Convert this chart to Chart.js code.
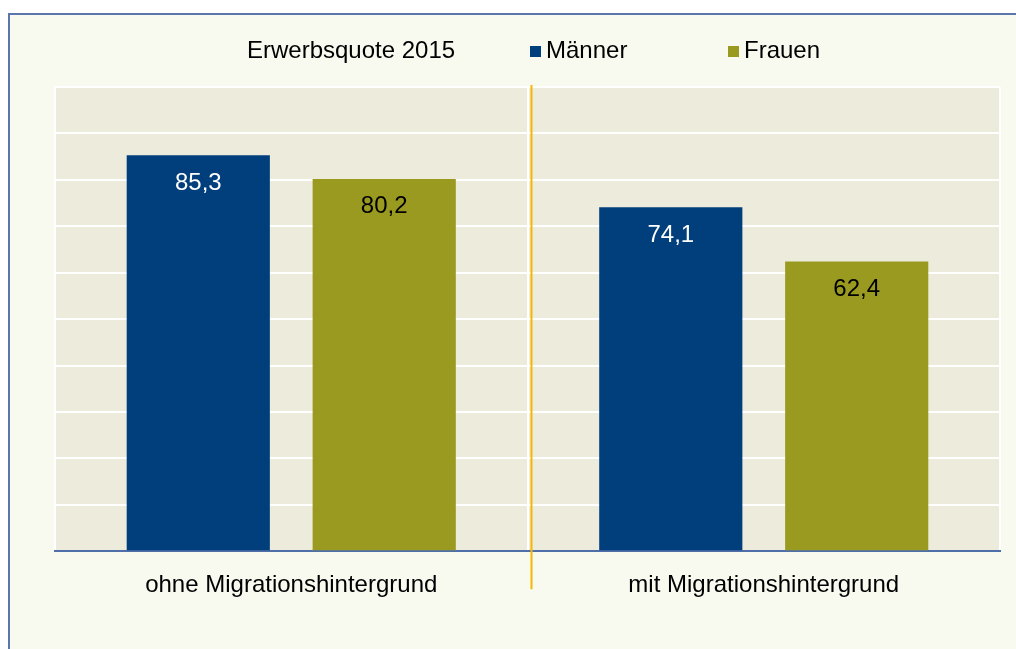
<!DOCTYPE html>
<html>
<head>
<meta charset="utf-8">
<script src="https://cdn.jsdelivr.net/npm/chart.js@4"></script>
<style>
  body { margin: 0; background: #fff; }
  #wrap { width: 1016px; height: 649px; }
</style>
</head>
<body>
<div id="wrap"><canvas id="chart" width="1016" height="649"></canvas></div>
<script>
const categories = ['ohne Migrationshintergrund', 'mit Migrationshintergrund'];
const maenner = [85.3, 74.1];
const frauen = [80.2, 62.4];
const legendTitle = 'Erwerbsquote 2015';

const blue = '#003F7C';
const olive = '#999A1F';
const font = '"Liberation Sans", Arial, sans-serif';

// frame, plot background, legend, divider line and value labels
const decor = {
  id: 'decor',
  beforeDraw(chart) {
    const c = chart.ctx, a = chart.chartArea;
    c.save();
    c.fillStyle = '#ffffff';
    c.fillRect(0, 0, chart.width, chart.height);
    c.fillStyle = '#F8F9EF';
    c.fillRect(8, 13, chart.width, chart.height);
    c.strokeStyle = '#5A76AD';
    c.lineWidth = 2;
    c.strokeRect(9, 14, chart.width + 10, chart.height + 10);
    c.fillStyle = '#EDEBDB';
    c.fillRect(a.left, a.top, a.right - a.left, a.bottom - a.top);
    c.restore();
  },
  afterDraw(chart) {
    const c = chart.ctx, a = chart.chartArea, x = chart.scales.x;
    c.save();
    // divider between the groups
    const mid = (x.getPixelForValue(0) + x.getPixelForValue(1)) / 2 + 4;
    c.strokeStyle = '#F5B800';
    c.lineWidth = 2;
    c.beginPath();
    c.moveTo(mid, a.top - 2);
    c.lineTo(mid, a.bottom + 38);
    c.stroke();

    // legend
    c.font = '24px ' + font;
    c.textBaseline = 'alphabetic';
    c.fillStyle = '#000';
    c.fillText(legendTitle, 247, 58);
    const items = [[530, 0], [728, 1]];
    items.forEach(([lx, i]) => {
      const ds = chart.data.datasets[i];
      c.fillStyle = ds.backgroundColor;
      c.fillRect(lx, 46, 11, 11);
      c.fillStyle = '#000';
      c.fillText(ds.label, lx + 16, 58);
    });

    // value labels
    chart.data.datasets.forEach((ds, di) => {
      const meta = chart.getDatasetMeta(di);
      meta.data.forEach((bar, i) => {
        c.fillStyle = di === 0 ? '#ffffff' : '#000000';
        c.textAlign = 'center';
        c.fillText(ds.data[i].toFixed(1).replace('.', ','), bar.x, bar.y + 34.5);
      });
    });
    c.restore();
  }
};

new Chart(document.getElementById('chart'), {
  type: 'bar',
  data: {
    labels: categories,
    datasets: [
      { label: 'Männer', data: maenner, backgroundColor: blue },
      { label: 'Frauen', data: frauen, backgroundColor: olive }
    ]
  },
  options: {
    responsive: false,
    animation: false,
    layout: { padding: { top: 87, left: 55, right: 16, bottom: 29 } },
    plugins: {
      legend: { display: false },
      tooltip: { enabled: false }
    },
    datasets: {
      bar: { barPercentage: 0.77, categoryPercentage: 0.787 }
    },
    scales: {
      x: {
        grid: { color: '#ffffff', lineWidth: 2, drawTicks: false, offset: true },
        border: { color: '#4F6FA8', width: 2 },
        ticks: {
          color: '#000',
          padding: 20,
          font: { size: 24, family: font }
        }
      },
      y: {
        min: 0,
        max: 100,
        ticks: { display: false, stepSize: 10 },
        grid: { color: '#ffffff', lineWidth: 2, drawTicks: false },
        border: { display: false }
      }
    }
  },
  plugins: [decor]
});
</script>
</body>
</html>
